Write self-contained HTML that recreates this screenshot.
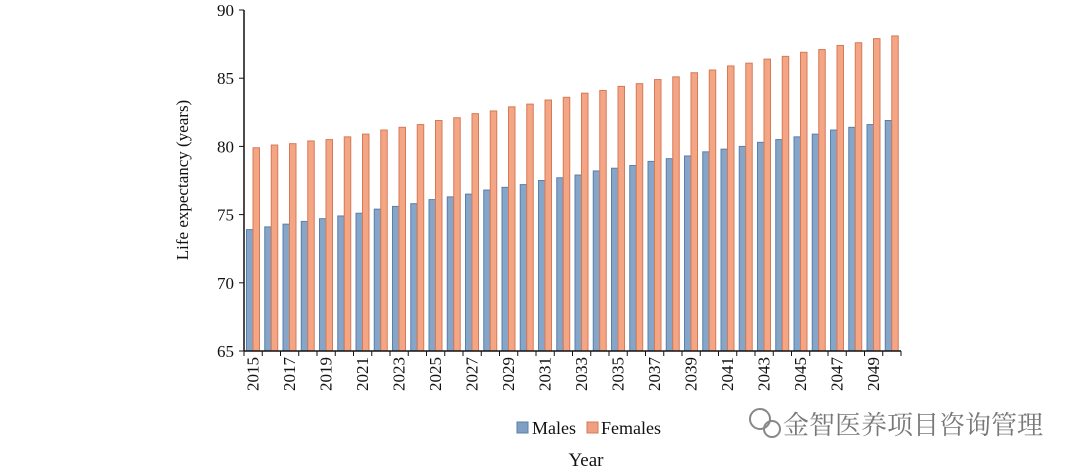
<!DOCTYPE html>
<html><head><meta charset="utf-8"><style>
html,body{margin:0;padding:0;background:#fff;}
svg text{font-family:"Liberation Serif","Noto Serif CJK SC",serif;}
</style></head><body>
<svg id="chart" width="1080" height="471" viewBox="0 0 1080 471" xmlns="http://www.w3.org/2000/svg">
<g id="plot"></g>
<text x="188" y="180" transform="rotate(-90 188 180)" text-anchor="middle" font-size="17" fill="#111">Life expectancy (years)</text>
<text x="586" y="466" text-anchor="middle" font-size="19" fill="#111">Year</text>
<g>
<rect x="517" y="422" width="11" height="11" fill="#7f9fc3" stroke="#5b7fa8"/>
<text x="532" y="434" font-size="18" fill="#111">Males</text>
<rect x="587" y="422" width="11" height="11" fill="#f0a080" stroke="#d57a58"/>
<text x="601" y="434" font-size="18" fill="#111">Females</text>
</g>
<g>
<circle cx="760" cy="419" r="10" fill="none" stroke="#888" stroke-width="2"/>
<circle cx="772" cy="429" r="8" fill="none" stroke="#888" stroke-width="2"/>
<text x="783" y="434" font-size="26" fill="#777" font-family="'Noto Sans CJK SC',sans-serif">金智医养项目咨询管理</text>
</g>
</svg>
<script>
const years=[2015,2016,2017,2018,2019,2020,2021,2022,2023,2024,2025,2026,2027,2028,2029,2030,2031,2032,2033,2034,2035,2036,2037,2038,2039,2040,2041,2042,2043,2044,2045,2046,2047,2048,2049,2050];
const males=[73.9,74.1,74.3,74.5,74.7,74.9,75.1,75.4,75.6,75.8,76.1,76.3,76.5,76.8,77.0,77.2,77.5,77.7,77.9,78.2,78.4,78.6,78.9,79.1,79.3,79.6,79.8,80.0,80.3,80.5,80.7,80.9,81.2,81.4,81.6,81.9];
const females=[79.9,80.1,80.2,80.4,80.5,80.7,80.9,81.2,81.4,81.6,81.9,82.1,82.4,82.6,82.9,83.1,83.4,83.6,83.9,84.1,84.4,84.6,84.9,85.1,85.4,85.6,85.9,86.1,86.4,86.6,86.9,87.1,87.4,87.6,87.9,88.1];
const yTicks=[65,70,75,80,85,90];
const NS="http://www.w3.org/2000/svg";
const g=document.getElementById('plot');
const X0=244,X1=901,Y0=351,Y1=10,YMIN=65,YMAX=90;
const step=(X1-X0)/years.length;
const y=v=>Y0-(v-YMIN)/(YMAX-YMIN)*(Y0-Y1);
const x=i=>X0+i*step;
function mk(t,a){const e=document.createElementNS(NS,t);for(const k in a)e.setAttribute(k,a[k]);g.appendChild(e);return e;}
years.forEach((yr,i)=>{
  let b=mk('rect',{x:x(i)+2.5,y:y(males[i]),width:6.5,height:Y0-y(males[i]),fill:'#86a6c9',stroke:'#5b7fa8','stroke-width':1});
  
  
  let f=mk('rect',{x:x(i)+9,y:y(females[i]),width:6.5,height:Y0-y(females[i]),fill:'#f4a584',stroke:'#d57a58','stroke-width':1});
  
  
  let tk=mk('line',{x1:x(i),x2:x(i),y1:Y0,y2:Y0+5,stroke:'#111','stroke-width':1});
  
  
  if(i%2===0){
    const cx=x(i)+step/2+5.5, cy=Y0+6;
    let t=mk('text',{x:cx,y:cy,transform:`rotate(-90 ${cx} ${cy})`,'text-anchor':'end','font-size':17,fill:'#111'});
    t.textContent=yr;
    
    
  }
});
mk('line',{x1:X1,x2:X1,y1:Y0,y2:Y0+5,stroke:'#111'});
yTicks.forEach(v=>{
  let l=mk('line',{x1:X0-5,x2:X0,y1:y(v),y2:y(v),stroke:'#111','stroke-width':1});
  
  
  let t=mk('text',{x:X0-10,y:y(v)+6,'text-anchor':'end','font-size':17,fill:'#111'});
  t.textContent=v;
  
  
});
let ya=mk('line',{x1:X0,x2:X0,y1:Y1,y2:Y0,stroke:'#111','stroke-width':1.5});


let xa=mk('line',{x1:X0,x2:X1,y1:Y0,y2:Y0,stroke:'#111','stroke-width':1.5});


</script>
</body></html>
